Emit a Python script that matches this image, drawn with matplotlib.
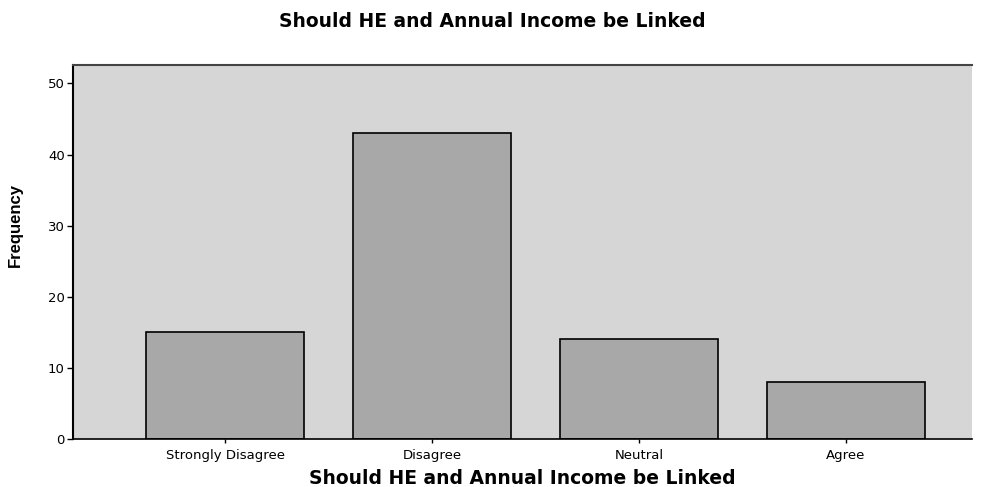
import matplotlib
matplotlib.use("Agg")
import matplotlib.pyplot as plt

# Дані графіка
categories = ["Strongly Disagree", "Disagree", "Neutral", "Agree"]
frequencies = [15, 43, 14, 8]
y_ticks = [0, 10, 20, 30, 40, 50]
title_text = "Should HE and Annual Income be Linked"

fig = plt.figure(figsize=(9.84, 4.87), dpi=100)
ax = fig.add_axes([0.0742, 0.0986, 0.9138, 0.7679])

ax.set_facecolor("#d6d6d6")
ax.bar(range(len(categories)), frequencies, width=0.76,
       color="#a8a8a8", edgecolor="black", linewidth=1.2, zorder=2)

ax.set_xlim(-0.735, 3.61)
ax.set_ylim(0, 52.6)
ax.set_yticks(y_ticks)
ax.set_xticks(range(len(categories)))
ax.set_xticklabels(categories, fontsize=9.5, family="DejaVu Sans")
ax.tick_params(axis="y", direction="out", length=4, width=1, labelsize=9.5, pad=2)
ax.tick_params(axis="x", direction="out", length=3, width=1, pad=4)

# Рамка як у SPSS
ax.spines["right"].set_visible(False)
ax.spines["top"].set_color("#444444")
ax.spines["top"].set_linewidth(1.5)
ax.spines["left"].set_linewidth(1.5)
ax.spines["bottom"].set_linewidth(1.2)

fig.text(0.5, 0.955, title_text, ha="center", va="center", fontsize=13.5,
         fontweight="bold", family="DejaVu Sans")
ax.set_xlabel(title_text, fontsize=13.5, fontweight="bold",
              family="DejaVu Sans", labelpad=5)
ax.set_ylabel("Frequency", fontsize=12, fontweight="bold",
              family="Liberation Sans")
ax.yaxis.set_label_coords(-0.056, 0.572)

fig.savefig("out.png", dpi=100)
